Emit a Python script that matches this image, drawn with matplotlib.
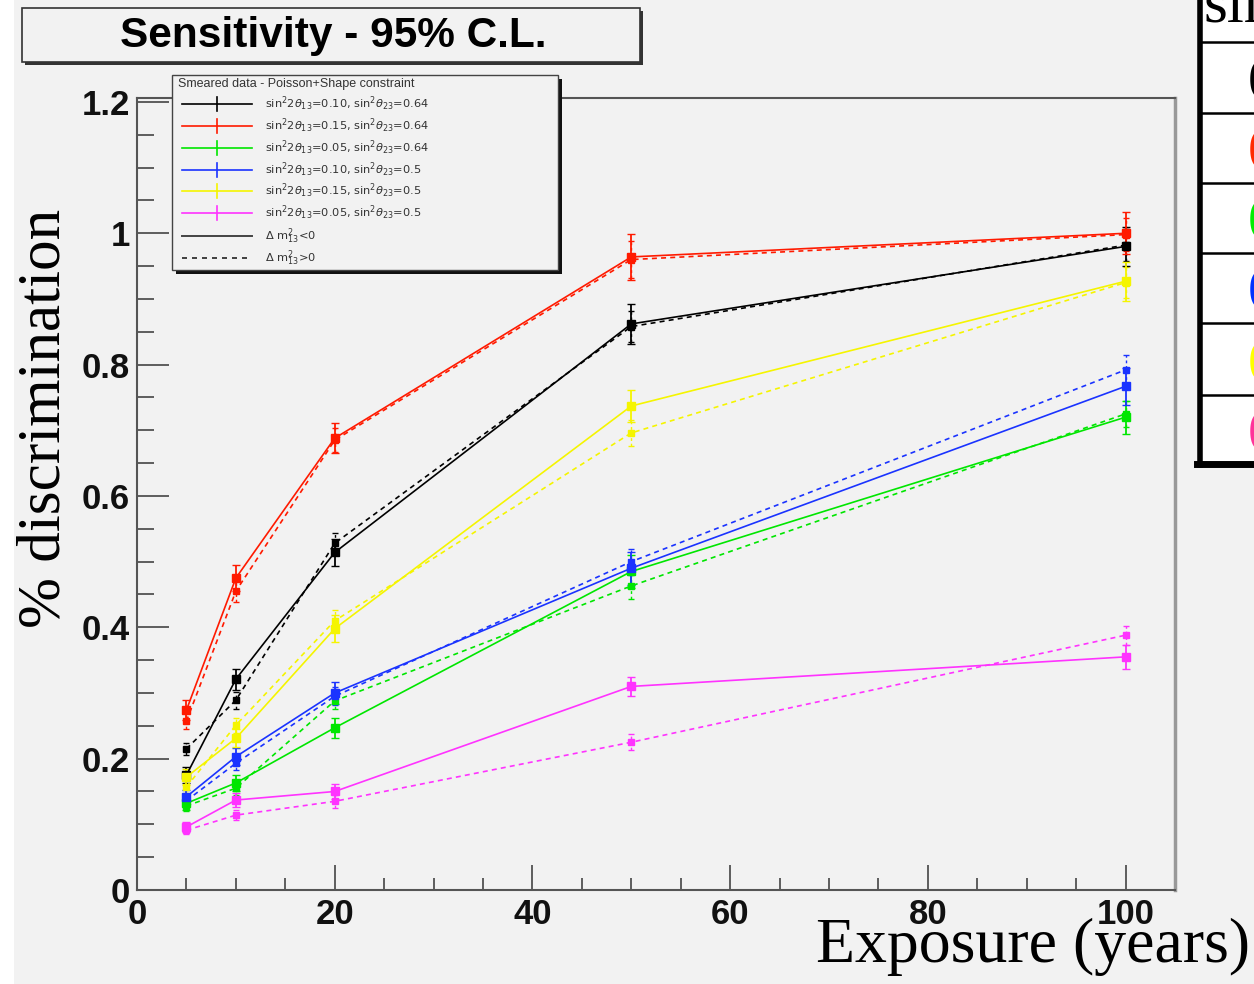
import numpy as np
import matplotlib
matplotlib.use('Agg')
import matplotlib.pyplot as plt
from matplotlib.patches import Rectangle
from matplotlib.lines import Line2D

# exposure in years
exposure = [5, 10, 20, 50, 100]

# solid lines: delta m^2_13 < 0
black_neg = [0.175, 0.321, 0.514, 0.862, 0.980]
red_neg = [0.274, 0.475, 0.688, 0.964, 1.000]
green_neg = [0.132, 0.163, 0.247, 0.485, 0.720]
blue_neg = [0.142, 0.203, 0.300, 0.490, 0.767]
yellow_neg = [0.172, 0.231, 0.398, 0.737, 0.927]
pink_neg = [0.096, 0.137, 0.150, 0.310, 0.355]

# dashed lines: delta m^2_13 > 0
black_pos = [0.215, 0.289, 0.528, 0.858, 0.982]
red_pos = [0.257, 0.455, 0.685, 0.960, 0.998]
green_pos = [0.128, 0.155, 0.288, 0.463, 0.725]
blue_pos = [0.136, 0.193, 0.295, 0.500, 0.792]
yellow_pos = [0.157, 0.251, 0.410, 0.696, 0.925]
pink_pos = [0.091, 0.114, 0.135, 0.225, 0.388]

# error bars
black_err = [0.012, 0.016, 0.020, 0.030, 0.030]
red_err = [0.015, 0.020, 0.023, 0.035, 0.032]
green_err = [0.010, 0.012, 0.015, 0.025, 0.025]
blue_err = [0.010, 0.013, 0.017, 0.025, 0.028]
yellow_err = [0.012, 0.014, 0.020, 0.024, 0.030]
pink_err = [0.008, 0.010, 0.012, 0.015, 0.018]

colors = ['#000000', '#ff1a00', '#00e600', '#1a33ff', '#f5f500', '#ff33ff']
legend_labels = [
    r'sin$^2$2$\theta_{13}$=0.10, sin$^2\theta_{23}$=0.64',
    r'sin$^2$2$\theta_{13}$=0.15, sin$^2\theta_{23}$=0.64',
    r'sin$^2$2$\theta_{13}$=0.05, sin$^2\theta_{23}$=0.64',
    r'sin$^2$2$\theta_{13}$=0.10, sin$^2\theta_{23}$=0.5',
    r'sin$^2$2$\theta_{13}$=0.15, sin$^2\theta_{23}$=0.5',
    r'sin$^2$2$\theta_{13}$=0.05, sin$^2\theta_{23}$=0.5',
]
table_colors = ['#000000', '#ff2a00', '#00ee00', '#0033ff', '#ffff00', '#ff3399']

y_ticks = [0, 0.2, 0.4, 0.6, 0.8, 1, 1.2]
y_ticklabels = ['0', '0.2', '0.4', '0.6', '0.8', '1', '1.2']
x_ticks = [0, 20, 40, 60, 80, 100]
x_ticklabels = ['0', '20', '40', '60', '80', '100']

W, H = 1254, 984
bg = '#f2f2f2'
fig = plt.figure(figsize=(W / 100, H / 100), dpi=100, facecolor=bg)

# main frame
ax = fig.add_axes([137 / W, 1 - 890 / H, (1175 - 137) / W, (890 - 98) / H], facecolor=bg)
ax.set_xlim(0, 105)
ax.set_ylim(0, 1.206)

neg_series = [black_neg, red_neg, green_neg, blue_neg, yellow_neg, pink_neg]
pos_series = [black_pos, red_pos, green_pos, blue_pos, yellow_pos, pink_pos]
errs = [black_err, red_err, green_err, blue_err, yellow_err, pink_err]

for ys, e, c in zip(pos_series, errs, colors):
    eb = ax.errorbar(exposure, ys, yerr=np.array(e) * 0.8, color=c, lw=1.2,
                     dashes=(3, 2.5), marker='s', ms=5, capsize=2, elinewidth=1)
    eb[2][0].set_linestyle((0, (2, 2)))
for ys, e, c in zip(neg_series, errs, colors):
    ax.errorbar(exposure, ys, yerr=e, color=c, lw=1.2, marker='s', ms=5.5,
                capsize=3, elinewidth=1.3)

for s in ax.spines.values():
    s.set_color('#555555')
    s.set_linewidth(1.5)
ax.spines['right'].set_color('#999999')
ax.spines['right'].set_linewidth(2.5)

ax.set_xticks(x_ticks)
ax.set_xticklabels(x_ticklabels)
ax.set_yticks(y_ticks)
ax.set_yticklabels(y_ticklabels)
ax.set_xticks(np.arange(0, 105, 5), minor=True)
ax.set_yticks(np.arange(0, 1.21, 0.05), minor=True)
ax.tick_params(axis='x', which='major', direction='in', length=18, width=1.2, color='#444', pad=6)
ax.tick_params(axis='x', which='minor', direction='in', length=9, width=1.2, color='#444')
ax.tick_params(axis='y', which='major', direction='in', length=23, width=1.2, color='#444', pad=5)
ax.tick_params(axis='y', which='minor', direction='in', length=12, width=1.2, color='#444')
for lab in ax.get_xticklabels() + ax.get_yticklabels():
    lab.set_fontfamily('Liberation Sans')
    lab.set_fontweight('bold')
    lab.set_fontsize(25)
    lab.set_color('#111111')

# overlay in pixel coordinates for boxes and annotations
ov = fig.add_axes([0, 0, 1, 1], facecolor='none')
ov.set_xlim(0, W)
ov.set_ylim(H, 0)
ov.axis('off')

# white strip at the left edge
ov.add_patch(Rectangle((0, 0), 14, H, facecolor='white', edgecolor='none'))

# title box
ov.add_patch(Rectangle((25, 11), 618, 54, facecolor='#333333', edgecolor='none'))
ov.add_patch(Rectangle((22, 8), 618, 54, facecolor=bg, edgecolor='#333333', lw=1.2))
ov.text(333, 36, 'Sensitivity - 95% C.L.', ha='center', va='center',
        fontsize=30.5, fontweight='bold', family='Liberation Sans')

# legend box
ov.add_patch(Rectangle((176, 79), 386, 195, facecolor='#111111', edgecolor='none'))
ov.add_patch(Rectangle((172, 75), 386, 195, facecolor=bg, edgecolor='#444444', lw=1))
ov.text(178, 84, 'Smeared data - Poisson+Shape constraint', ha='left', va='center',
        fontsize=9, color='#333333', family='Liberation Sans')
row_y = [104, 126, 148, 170, 191, 213, 236, 258]
for yy, c, lab in zip(row_y, colors, legend_labels):
    ov.add_line(Line2D([182, 252], [yy, yy], color=c, lw=1.2))
    ov.add_line(Line2D([217, 217], [yy - 7, yy + 7], color=c, lw=1.2))
    ov.text(265, yy, lab, ha='left', va='center', fontsize=8.2, color='#333333')
ov.add_line(Line2D([182, 252], [row_y[6], row_y[6]], color='#444444', lw=1.4))
ov.text(265, row_y[6], r'$\Delta$ m$^2_{13}$<0', ha='left', va='center', fontsize=8.2, color='#333333')
ov.add_line(Line2D([182, 252], [row_y[7], row_y[7]], color='#222222', lw=1.2, dashes=(3, 3)))
ov.text(265, row_y[7], r'$\Delta$ m$^2_{13}$>0', ha='left', va='center', fontsize=8.2, color='#333333')

# axis titles
fig.text(45 / W, 1 - 418 / H, '% discrimination', rotation=90, ha='center', va='center',
         fontsize=44, family='Liberation Serif')
ov.text(1250, 962, 'Exposure (years)', ha='right', va='baseline',
        fontsize=46, family='Liberation Serif')

# table at the right edge (cut off)
ov.add_patch(Rectangle((1199, -5), 80, 469, facecolor='white', edgecolor='none'))
ov.add_line(Line2D([1199.5, 1199.5], [0, 465], color='black', lw=4))
ov.add_line(Line2D([1197, W], [464, 464], color='black', lw=5))
row_lines = [42, 113, 183, 253, 323, 395]
for yy in row_lines:
    ov.add_line(Line2D([1199, W], [yy, yy], color='black', lw=1.8))
ov.text(1203, 22, 'sin', ha='left', va='baseline', fontsize=44, family='Liberation Serif')
row_bounds = row_lines + [464]
for i, c in enumerate(table_colors):
    yc = (row_bounds[i] + row_bounds[i + 1]) / 2 + 6
    ov.text(1248, yc, '0', ha='left', va='center', fontsize=42, color=c, family='Liberation Serif')

fig.savefig('out.png', dpi=100, facecolor=bg)
